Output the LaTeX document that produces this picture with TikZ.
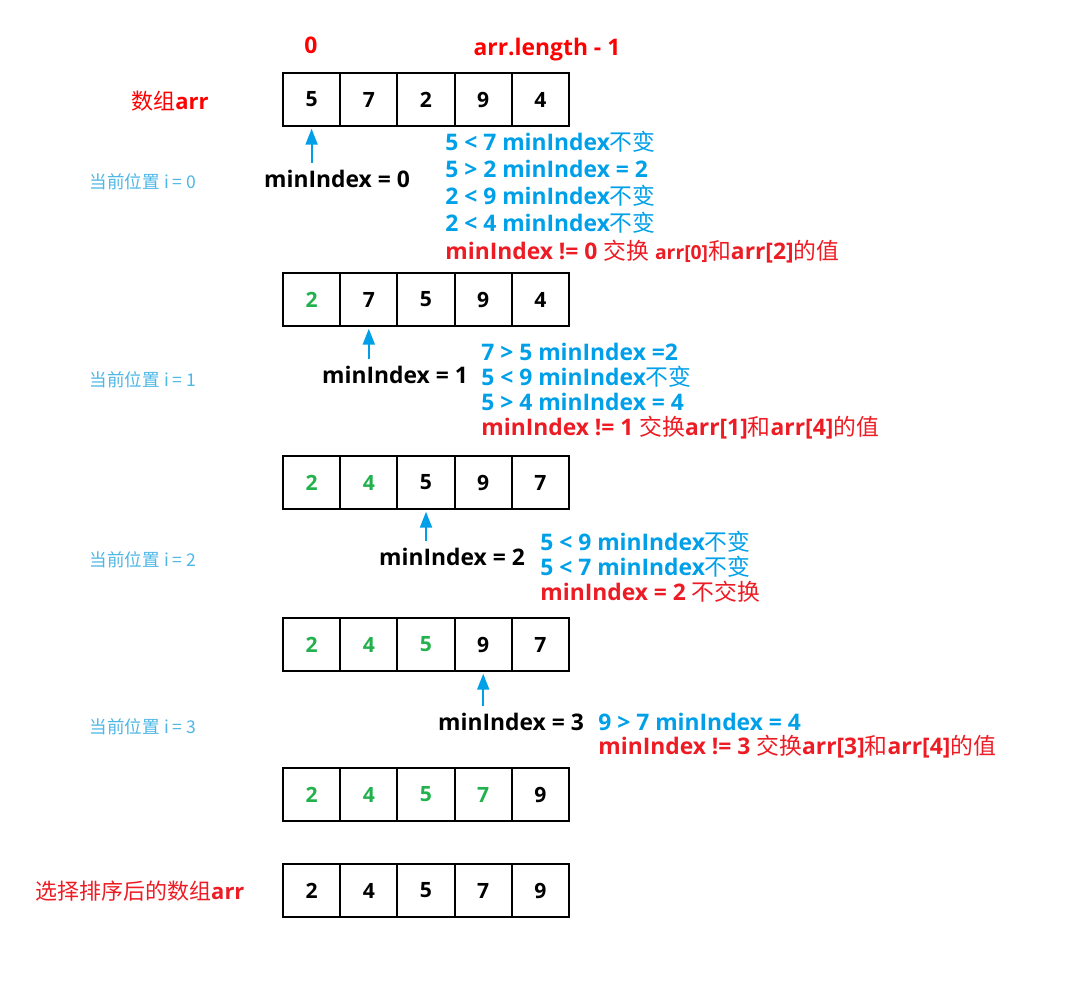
\documentclass[tikz,border=0pt]{standalone}
\usepackage{fontspec}
\setmainfont{Open Sans}
\newfontfamily\cjk{Noto Sans CJK SC}
\usepackage{tikz}
\usetikzlibrary{arrows.meta,positioning}
\definecolor{cblue}{RGB}{0,160,233}
\definecolor{cred}{RGB}{237,28,36}
\definecolor{cgreen}{RGB}{34,177,76}
\definecolor{clight}{RGB}{77,183,230}
\newcommand{\zhtxt}[1]{{\cjk\mdseries #1}}

\begin{document}
\begin{tikzpicture}[x=0.02cm, y=-0.02cm,
  cell/.style={draw, line width=1.1pt, minimum width=1.144cm, minimum height=1.06cm,
               inner sep=0pt, font=\fontsize{12}{14}\selectfont\bfseries},
  ptr/.style={-{Triangle[length=3.2mm,width=2.4mm]}, cblue, line width=1.1pt, shorten >=1pt},
  mi/.style={inner sep=0pt, text height=9pt, text depth=0pt,
             font=\fontsize{13}{15}\selectfont\bfseries},
  cmp/.style={mi, anchor=west, text=cblue},
  swp/.style={mi, anchor=west, text=cred},
  curpos/.style={inner sep=0pt, text=clight, font=\fontsize{10}{12}\selectfont\cjk}
]
\useasboundingbox (0,0) rectangle (1070,986);

% ======= index labels =======
\node[mi, text=red] (first) at (311,46) {0};
\node[mi, text=red] (last) at (547,48) {arr.length - 1};
\node[text=red, inner sep=0pt, font=\fontsize{12.5}{15}\selectfont] (title) at (170,101) {\zhtxt{数组}\bfseries arr};

% ======= arrays =======
\foreach \r/\y/\vals in {a/99.5/{5/black,7/black,2/black,9/black,4/black},
                         b/299.5/{2/cgreen,7/black,5/black,9/black,4/black},
                         c/482.5/{2/cgreen,4/cgreen,5/black,9/black,7/black},
                         d/644.5/{2/cgreen,4/cgreen,5/cgreen,9/black,7/black},
                         e/794.5/{2/cgreen,4/cgreen,5/cgreen,7/cgreen,9/black},
                         f/890.5/{2/black,4/black,5/black,7/black,9/black}}
  \foreach \v/\c [count=\k] in \vals
    \node[cell, text=\c] (\r\k) at ({283+57.2*(\k-0.5)},\y) {\v};

% ======= current position =======
\node[curpos] (p0) at (143,182) {当前位置 i = 0};
\node[curpos] (p1) at (143,380) {当前位置 i = 1};
\node[curpos] (p2) at (143,560) {当前位置 i = 2};
\node[curpos] (p3) at (143,727) {当前位置 i = 3};
\node[text=cred, inner sep=0pt, font=\fontsize{12.5}{15}\selectfont] (done) at (140,891)
  {\zhtxt{选择排序后的数组}\bfseries arr};

% ======= minIndex pointers =======
\node[mi] (m0) at (337,180) {minIndex = 0};
\node[mi] (m1) at (395,376) {minIndex = 1};
\node[mi] (m2) at (452,558) {minIndex = 2};
\node[mi] (m3) at (511,723) {minIndex = 3};
\draw[ptr] ([yshift=5pt]m0.north -| a1.south) -- (a1.south);
\draw[ptr] ([yshift=5pt]m1.north -| b2.south) -- (b2.south);
\draw[ptr] ([yshift=5pt]m2.north -| c3.south) -- (c3.south);
\draw[ptr] ([yshift=5pt]m3.north -| d4.south) -- (d4.south);

% ======= i = 0 =======
\node[cmp] (s0a) at (445,143) {5 < 7 minIndex\zhtxt{不变}};
\node[cmp] (s0b) at (445,170) {5 > 2 minIndex = 2};
\node[cmp] (s0c) at (445,197) {2 < 9 minIndex\zhtxt{不变}};
\node[cmp] (s0d) at (445,224) {2 < 4 minIndex\zhtxt{不变}};
\node[swp] (s0e) at (445,252) {minIndex != 0 \zhtxt{交换} {\fontsize{11}{13}\selectfont arr[0]}\zhtxt{和}arr[2]\zhtxt{的值}};

% ======= i = 1 =======
\node[cmp] (s1a) at (481,353) {7 > 5 minIndex =2};
\node[cmp] (s1b) at (481,378) {5 < 9 minIndex\zhtxt{不变}};
\node[cmp] (s1c) at (481,403) {5 > 4 minIndex = 4};
\node[swp] (s1d) at (481,428) {minIndex != 1 \zhtxt{交换}arr[1]\zhtxt{和}arr[4]\zhtxt{的值}};

% ======= i = 2 =======
\node[cmp] (s2a) at (540,543) {5 < 9 minIndex\zhtxt{不变}};
\node[cmp] (s2b) at (540,568) {5 < 7 minIndex\zhtxt{不变}};
\node[swp] (s2c) at (540,593) {minIndex = 2 \zhtxt{不交换}};

% ======= i = 3 =======
\node[cmp] (s3a) at (598,723) {9 > 7 minIndex = 4};
\node[swp] (s3b) at (598,747) {minIndex != 3 \zhtxt{交换}arr[3]\zhtxt{和}arr[4]\zhtxt{的值}};

\end{tikzpicture}
\end{document}
